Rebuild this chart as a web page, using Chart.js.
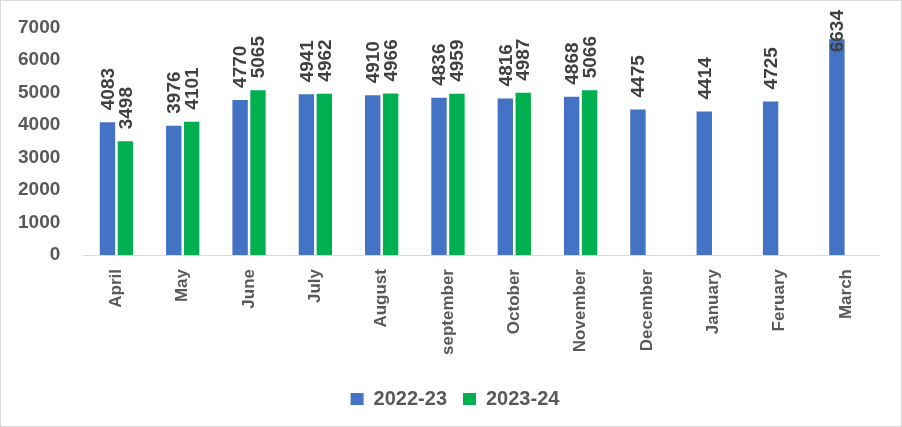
<!DOCTYPE html>
<html>
<head>
<meta charset="utf-8">
<script src="https://cdn.jsdelivr.net/npm/chart.js@4"></script>
<style>
    html, body { margin: 0; padding: 0; background: #fff; }
    #wrap {
        width: 900px;
        height: 425px;
        border: 1px solid #d9d9d9;
        position: relative;
    }
</style>
</head>
<body>
<div id="wrap"><canvas id="chart"></canvas></div>
<script>
// ==================== DATOS ====================
const months = ['April', 'May', 'June', 'July', 'August', 'september', 'October',
    'November', 'December', 'January', 'Feruary', 'March'];
const series2223 = [4083, 3976, 4770, 4941, 4910, 4836, 4816, 4868, 4475, 4414, 4725, 6634];
const series2324 = [3498, 4101, 5065, 4962, 4966, 4959, 4987, 5066, null, null, null, null];
const yTicks = [0, 1000, 2000, 3000, 4000, 5000, 6000, 7000];

const FONT = "'Liberation Sans', Arial, sans-serif";

// etiquetas de valor, giradas
const valueLabels = {
    id: 'valueLabels',
    afterDatasetsDraw(chart) {
        const c = chart.ctx;
        c.save();
        c.font = 'bold 19px ' + FONT;
        c.fillStyle = '#404040';
        chart.data.datasets.forEach((ds, i) => {
            const meta = chart.getDatasetMeta(i);
            meta.data.forEach((bar, j) => {
                const v = ds.data[j];
                if (v === null || v === undefined) return;
                const txt = String(v);
                const w = c.measureText(txt).width;
                let y = bar.y - 12;
                if (y - w < 9) y = 9 + w;
                c.save();
                c.translate(bar.x, y);
                c.rotate(-Math.PI / 2);
                c.textAlign = 'left';
                c.textBaseline = 'middle';
                c.fillText(txt, 0, 1);
                c.restore();
            });
        });
        c.restore();
    }
};

// leyenda un poco a la derecha
const legendShift = {
    id: 'legendShift',
    afterLayout(chart) {
        const lg = chart.legend;
        if (lg) {
            lg.left += 14;
            lg.right += 14;
        }
    }
};

const ctx = document.getElementById('chart').getContext('2d');

const chart = new Chart(ctx, {
    type: 'bar',
    data: {
        labels: months,
        datasets: [{
            label: '2022-23',
            data: series2223,
            backgroundColor: '#4472C4',
            categoryPercentage: 0.54,
            barPercentage: 0.86
        }, {
            label: '2023-24',
            data: series2324,
            backgroundColor: '#00B050',
            categoryPercentage: 0.54,
            barPercentage: 0.86
        }]
    },
    options: {
        animation: false,
        responsive: true,
        maintainAspectRatio: false,
        layout: { padding: { left: 2, right: 22, top: 7, bottom: 7 } },
        plugins: {
            tooltip: { enabled: false },
            legend: {
                position: 'bottom',
                labels: {
                    boxWidth: 13,
                    boxHeight: 12,
                    padding: 16,
                    color: '#595959',
                    font: { family: FONT, size: 20, weight: 'bold' }
                }
            }
        },
        scales: {
            x: {
                grid: { display: false },
                border: { color: '#d9d9d9' },
                afterFit: (scale) => { scale.height += 12; },
                ticks: {
                    color: '#595959',
                    maxRotation: 90,
                    minRotation: 90,
                    padding: 6,
                    font: { family: FONT, size: 17, weight: 'bold' }
                }
            },
            y: {
                min: yTicks[0],
                max: yTicks[yTicks.length - 1],
                grid: { display: false },
                border: { display: false },
                afterBuildTicks: (axis) => {
                    axis.ticks = yTicks.map(v => ({ value: v }));
                },
                ticks: {
                    color: '#595959',
                    padding: 15,
                    callback: (v) => String(v),
                    font: { family: FONT, size: 19, weight: 'bold' }
                }
            }
        }
    },
    plugins: [valueLabels, legendShift]
});
</script>
</body>
</html>
